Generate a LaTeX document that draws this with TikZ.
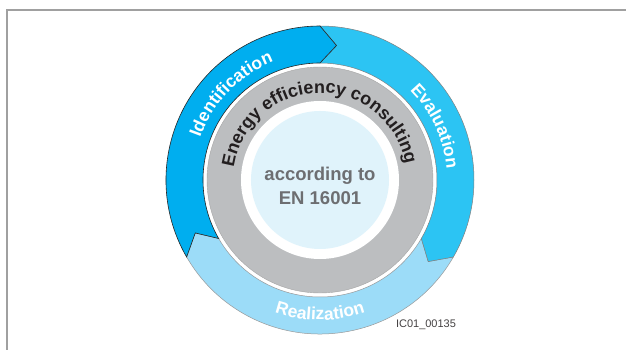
\documentclass[tikz,border=0pt]{standalone}
\usepackage{fontspec}
\setmainfont{Liberation Sans}
\usetikzlibrary{decorations.text}

\definecolor{identblue}{HTML}{00AEEF}
\definecolor{evalblue}{HTML}{2CC4F3}
\definecolor{realblue}{HTML}{9CDCF8}
\definecolor{ringgray}{HTML}{BCBEC0}
\definecolor{corelight}{HTML}{E0F3FB}
\definecolor{coretext}{HTML}{6D6E71}
\definecolor{ringtext}{HTML}{231F20}
\definecolor{framegray}{HTML}{A0A0A0}

\newcommand{\phasefont}{\fontsize{17.5}{17.5}\selectfont\bfseries}
\newcommand{\ringfont}{\fontsize{18}{18}\selectfont\bfseries}

\begin{document}
\begin{tikzpicture}[x=1pt,y=1pt,
		identpart/.style={fill=identblue, draw=black!85, line width=.6pt},
		evalpart/.style={fill=evalblue, draw=gray, line width=.5pt},
		realpart/.style={fill=realblue, draw=gray!80, line width=.5pt},
		phaselabel/.style={decorate, decoration={text along path, text color=white, text align=center}},
		ringlabel/.style={decorate, decoration={text along path, text color=ringtext, text align=center}}]
		\useasboundingbox (-320,-170) rectangle (306,180);

		% frame
		\draw[framegray, line width=2.2pt] (-313,-170) -- (-313,170) -- (306,170);

		% outer cycle
		\filldraw[realpart] (-30:154) arc[start angle=-30, end angle=-150, radius=154] -- (-157:135.5) -- (-150:117) arc[start angle=-150, end angle=-30, radius=117] -- (-37:135.5) -- cycle;
		\filldraw[evalpart] (90:154) arc[start angle=90, end angle=-30, radius=154] -- (-37:135.5) -- (-30:117) arc[start angle=-30, end angle=90, radius=117] -- (83:135.5) -- cycle;
		\filldraw[identpart] (210:154) arc[start angle=210, end angle=90, radius=154] -- (83:135.5) -- (90:117) arc[start angle=90, end angle=210, radius=117] -- (203:135.5) -- cycle;

		% rings
		\filldraw[ringgray, draw=gray!70, line width=.4pt] (0,0) circle(113);
		\fill[white] (0,0) circle(79);
		\fill[corelight] (0,0) circle(69);

		% labels
		\path[phaselabel, decoration={text={|\phasefont|Identification}}] (176:127) arc[start angle=176, end angle=96, radius=127];
		\path[phaselabel, decoration={text={|\phasefont|Evaluation}}] (65:127) arc[start angle=65, end angle=-15, radius=127];
		\path[phaselabel, decoration={text={|\phasefont|Realization}}] (230:140) arc[start angle=230, end angle=310, radius=140];
		\path[ringlabel, decoration={text={|\ringfont|Energy efficiency consulting}}] (181:87) arc[start angle=181, end angle=1, radius=87];

		\node[text=coretext, font=\fontsize{18.5}{24}\selectfont\bfseries, align=center] (core) at (0,-6) {according to\\EN 16001};
		\node[text=ringtext!85, font=\fontsize{11}{11}\selectfont] (figid) at (106,-145) {IC01\_00135};
	\end{tikzpicture}
\end{document}
